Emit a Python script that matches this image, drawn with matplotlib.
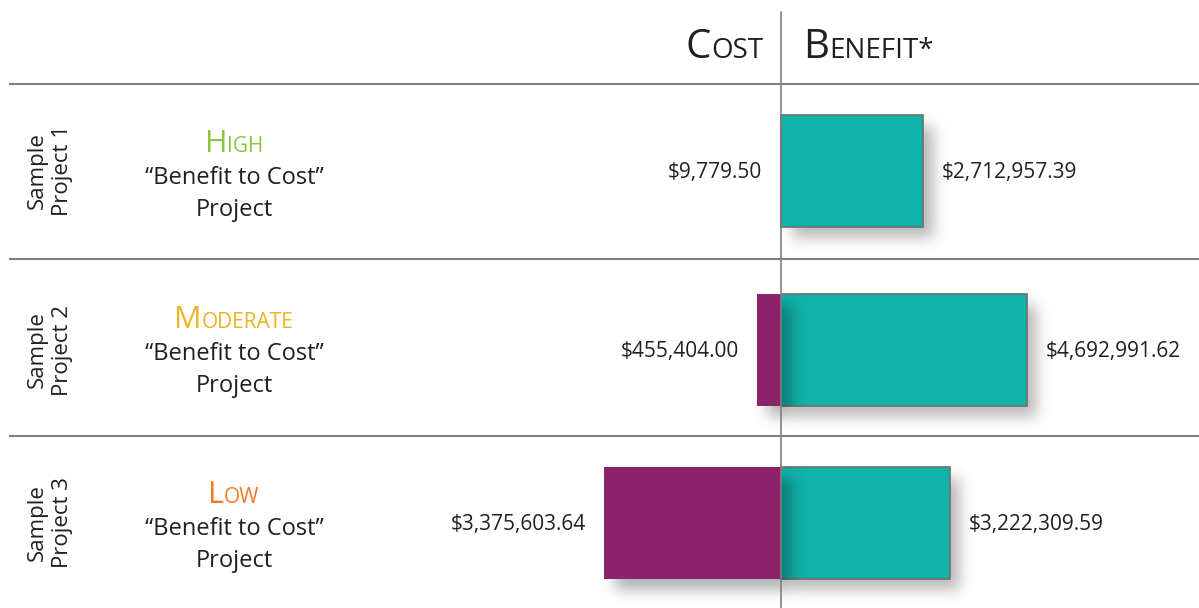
import numpy as np
import matplotlib
matplotlib.use('Agg')
import matplotlib.pyplot as plt

plt.rcParams['font.family'] = ['Open Sans', 'DejaVu Sans']

# 數據 (美元)
projects = ['Sample\nProject 1', 'Sample\nProject 2', 'Sample\nProject 3']
ratings = ['High', 'Moderate', 'Low']
rating_colors = ['#8cc63f', '#f0b323', '#f07c22']
costs = [9779.50, 455404.00, 3375603.64]
benefits = [2712957.39, 4692991.62, 3222309.59]

W, H = 1199, 608
TEAL = '#10b2aa'
PURPLE = '#8b236b'
INK = '#231f20'
LINE = '#808080'

fig = plt.figure(figsize=(W / 100, H / 100), dpi=100)
ax = fig.add_axes([0, 0, 1, 1])
ax.axis('off')

# 以百萬為單位，0 在中線
scale = 52.4  # px per million
xmin, xmax = -781 / scale, (W - 781) / scale
ax.set_xlim(xmin, xmax)
ax.set_ylim(H, 0)

row_y = [171, 350, 523]
bar_h = 112
cost_m = [c / 1e6 for c in costs]
ben_m = [b / 1e6 for b in benefits]


def to_px(x):
    return (x - xmin) / (xmax - xmin) * W


def blur(a, sigma):
    k = np.arange(-3 * sigma, 3 * sigma + 1)
    g = np.exp(-k ** 2 / (2 * sigma ** 2))
    g /= g.sum()
    a = np.apply_along_axis(lambda r: np.convolve(r, g, mode='same'), 1, a)
    a = np.apply_along_axis(lambda c: np.convolve(c, g, mode='same'), 0, a)
    return a


def shadow(rects, dx=11, dy=11, sigma=7, strength=0.27, z=1):
    m = np.zeros((H, W))
    for x0, x1, y0, y1 in rects:
        m[int(y0 + dy):int(y1 + dy), int(x0 + dx):int(x1 + dx)] = 1
    m = blur(m, sigma) * strength
    rgba = np.zeros((H, W, 4))
    rgba[..., 3] = m
    ax.imshow(rgba, extent=(xmin, xmax, H, 0), aspect='auto',
              interpolation='bilinear', zorder=z)


# 陰影與長條
shadow([(to_px(0), to_px(b), y - bar_h / 2, y + bar_h / 2) for b, y in zip(ben_m, row_y)], z=1)
ax.barh(row_y, ben_m, height=bar_h, left=0, color=TEAL, edgecolor='#6e6e6e',
        linewidth=1.2, zorder=2)
shadow([(to_px(-c), to_px(0), y - bar_h / 2, y + bar_h / 2) for c, y in zip(cost_m, row_y)
        if to_px(0) - to_px(-c) > 2], strength=0.3, z=3)
ax.barh(row_y, [-c for c in cost_m], height=bar_h, left=0, color=PURPLE,
        linewidth=0, zorder=4)
ax.set_xlim(xmin, xmax)
ax.set_ylim(H, 0)

# 格線
ax.plot([0, 0], [12, H], color=LINE, lw=1.2, zorder=5)
for yy in [84, 259, 436]:
    ax.plot([xmin + 10 / scale, xmax], [yy, yy], color=LINE, lw=1.5, zorder=5)

# 數值標籤
for c, b, y in zip(cost_m, ben_m, row_y):
    ax.text(-c - 18 / scale, y + 7, f'${c * 1e6:,.2f}', ha='right', va='baseline',
            fontsize=15, color=INK, zorder=6)
    ax.text(b + 19 / scale, y + 7, f'${b * 1e6:,.2f}', ha='left', va='baseline',
            fontsize=15, color=INK, zorder=6)

fig.canvas.draw()
renderer = fig.canvas.get_renderer()


def px_text(x, y, s, **kw):
    return fig.text(x / W, 1 - y / H, s, **kw)


def small_caps(x, y, word, big, small, color, ha='left'):
    t1 = px_text(0, y, word[0], fontsize=big, color=color, va='baseline')
    t2 = px_text(0, y, word[1:].upper(), fontsize=small, color=color, va='baseline')
    w1 = t1.get_window_extent(renderer).width
    w2 = t2.get_window_extent(renderer).width
    total = w1 + w2
    if ha == 'right':
        x0 = x - total
    elif ha == 'center':
        x0 = x - total / 2
    else:
        x0 = x
    t1.set_x(x0 / W)
    t2.set_x((x0 + w1) / W)


# 欄標題
small_caps(763, 58, 'Cost', 29, 20, INK, ha='right')
small_caps(803, 58, 'Benefit*', 29, 20, INK)

# 評級說明
base = [152, 328, 503]
for r, col, yb in zip(ratings, rating_colors, base):
    small_caps(234, yb, r, 22, 15, col, ha='center')
    px_text(234, yb + 32, '\u201cBenefit to Cost\u201d', fontsize=17, color=INK,
            ha='center', va='baseline')
    px_text(234, yb + 64, 'Project', fontsize=17, color=INK, ha='center', va='baseline')

# 左側專案名稱
for p, y in zip(projects, row_y):
    px_text(50, y, p, fontsize=16, color=INK, rotation=90, ha='center', va='center',
            multialignment='center', linespacing=1.3)

fig.savefig('out.png', dpi=100)
